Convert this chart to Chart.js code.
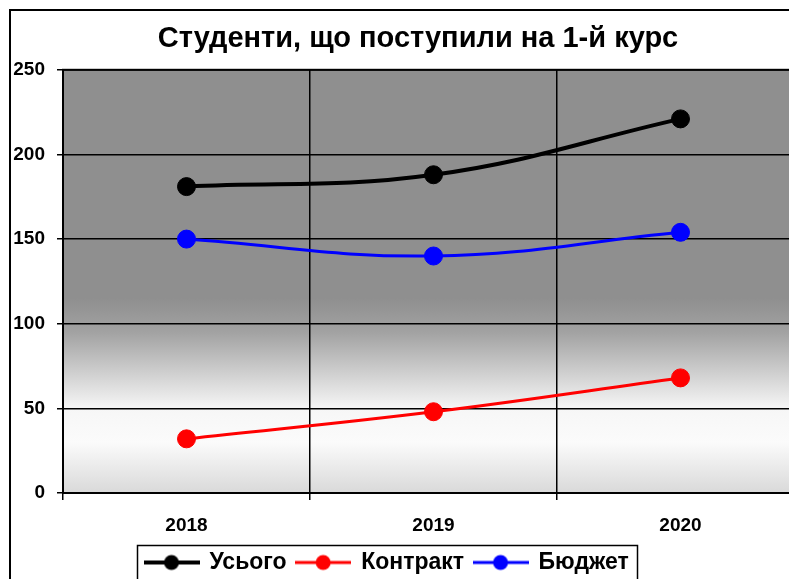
<!DOCTYPE html>
<html><head><meta charset="utf-8">
<script src="https://cdn.jsdelivr.net/npm/chart.js@4.4.1/dist/chart.umd.min.js"></script>
<style>
html,body{margin:0;padding:0;background:#fff;overflow:hidden;width:789px;height:579px;}
canvas{display:block;}
</style></head><body>
<canvas id="c" width="830" height="600"></canvas>
<script>
const categories = ['2018', '2019', '2020'];
const totalValues = [181, 188, 221];
const contractValues = [32, 48, 68];
const budgetValues = [150, 140, 154];
const seriesNames = ['Усього', 'Контракт', 'Бюджет'];
const seriesColors = ['#000000', '#ff0000', '#0000ff'];
const seriesWidths = [4, 3, 3];
const yTickValues = [0, 50, 100, 150, 200, 250];
const titleText = 'Студенти, що поступили на 1-й курс';

const FONT = "'Liberation Sans', Arial, sans-serif";

function legendIcon(color, lw) {
  const c = document.createElement('canvas');
  c.width = 56; c.height = 18;
  const x = c.getContext('2d');
  x.strokeStyle = color; x.lineWidth = lw;
  x.beginPath(); x.moveTo(0, 9); x.lineTo(56, 9); x.stroke();
  x.fillStyle = color;
  x.beginPath(); x.arc(28, 9, 7.5, 0, Math.PI * 2); x.fill();
  return c;
}
const icons = seriesColors.map((c, i) => legendIcon(c, seriesWidths[i]));

const framePlugin = {
  id: 'frame',
  afterLayout(chart) {
    const lg = chart.legend;
    if (lg) {
      const w = lg.right - lg.left, h = lg.bottom - lg.top;
      lg.left = 135; lg.right = 135 + w;
      lg.top = 541; lg.bottom = 541 + h;
    }
    const t = chart.titleBlock;
    if (t) { t.left += 11; t.right += 11; }
  },
  beforeDraw(chart) {
    const ctx = chart.ctx, a = chart.chartArea;
    ctx.save();
    const g = ctx.createLinearGradient(0, a.top, 0, a.bottom);
    g.addColorStop(0, '#8f8f8f');
    g.addColorStop(0.54, '#8f8f8f');
    g.addColorStop(0.62, '#a2a2a2');
    g.addColorStop(0.80, '#f6f6f6');
    g.addColorStop(0.88, '#fbfbfb');
    g.addColorStop(1, '#d9d9d9');
    ctx.fillStyle = g;
    ctx.fillRect(a.left, a.top, a.right - a.left, a.bottom - a.top);
    ctx.strokeStyle = '#000';
    ctx.lineWidth = 2;
    ctx.strokeRect(10, 10, 816, 620);
    ctx.restore();
  },
  beforeDatasetsDraw(chart) {
    const ctx = chart.ctx, a = chart.chartArea;
    ctx.save();
    ctx.strokeStyle = '#000';
    ctx.lineWidth = 2;
    ctx.strokeRect(a.left, a.top, a.right - a.left, a.bottom - a.top);
    ctx.restore();
  },
  afterDraw(chart) {
    const ctx = chart.ctx;
    ctx.save();
    ctx.strokeStyle = '#000';
    ctx.lineWidth = 1.5;
    ctx.strokeRect(137.5, 545.5, 500, 50);
    ctx.restore();
  }
};

const datasets = [totalValues, contractValues, budgetValues].map((vals, i) => ({
  label: seriesNames[i],
  data: vals,
  borderColor: seriesColors[i],
  backgroundColor: seriesColors[i],
  borderWidth: seriesWidths[i],
  pointRadius: 9,
  pointHoverRadius: 9,
  pointBorderWidth: 1,
  pointBackgroundColor: seriesColors[i],
  pointBorderColor: seriesColors[i],
  tension: 0.4,
  fill: false
}));

new Chart(document.getElementById('c'), {
  type: 'line',
  data: { labels: categories, datasets: datasets },
  options: {
    responsive: false,
    animation: false,
    layout: { padding: { left: 10, top: 10, right: 26, bottom: 18 } },
    plugins: {
      title: {
        display: true,
        text: titleText,
        color: '#000',
        font: { family: FONT, size: 29, weight: 'bold' },
        padding: { top: 12, bottom: 13 }
      },
      legend: {
        display: true,
        position: 'bottom',
        align: 'start',
        maxHeight: 40,
        labels: {
          usePointStyle: true,
          pointStyleWidth: 53,
          padding: 10,
          color: '#000',
          font: { family: FONT, size: 23, weight: 'bold' },
          generateLabels(chart) {
            return chart.data.datasets.map((ds, i) => ({
              text: ds.label,
              pointStyle: icons[i],
              fillStyle: ds.borderColor,
              strokeStyle: ds.borderColor,
              lineWidth: 0,
              hidden: false,
              datasetIndex: i,
              fontColor: '#000'
            }));
          }
        }
      },
      tooltip: { enabled: false }
    },
    scales: {
      x: {
        offset: true,
        grid: { offset: true, color: '#000', lineWidth: 1.5, tickLength: 7, drawTicks: true },
        border: { display: false },
        ticks: { color: '#000', font: { family: FONT, size: 19, weight: 'bold' }, padding: 14, maxRotation: 0 },
        afterFit(s) { s.height = 49; }
      },
      y: {
        min: 0, max: 250,
        afterBuildTicks(s) { s.ticks = yTickValues.map(v => ({ value: v })); },
        grid: { color: '#000', lineWidth: 1.5, tickLength: 6 },
        border: { display: false },
        ticks: { color: '#000', font: { family: FONT, size: 19, weight: 'bold' }, padding: 12 },
        afterFit(s) { s.width = 53; }
      }
    }
  },
  plugins: [framePlugin]
});
</script>
</body></html>
